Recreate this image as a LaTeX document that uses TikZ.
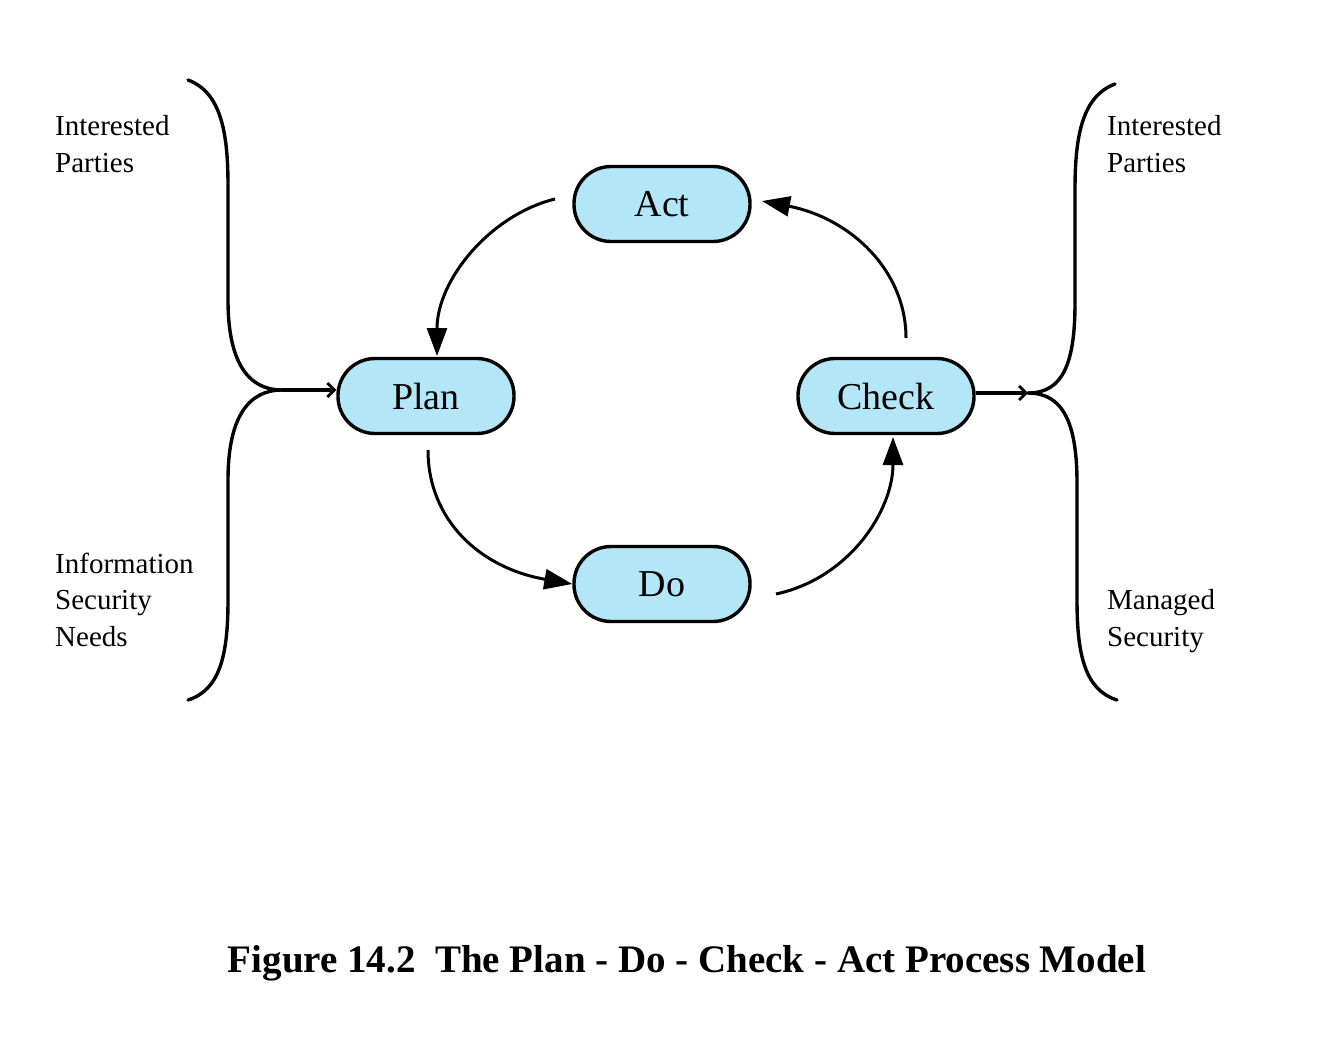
\documentclass[tikz,border=0pt]{standalone}
\usepackage{fontspec}
\setmainfont{Liberation Serif}
\usetikzlibrary{arrows.meta}
\definecolor{boxfill}{HTML}{B3E6F7}
\begin{document}
\begin{tikzpicture}[x=1pt,y=-1pt,
  stagebox/.style={draw=black,line width=3.4pt,fill=boxfill,rounded corners=37pt,
    minimum width=176pt,minimum height=75pt,inner sep=0pt,
    font=\fontsize{38}{44}\selectfont},
  flow/.style={line width=3pt,-{Triangle[length=28pt,width=20pt]}},
  bracepath/.style={line width=3.4pt,line cap=round},
  feed/.style={line width=3.4pt,-{Straight Barb[length=7pt,width=14pt,line width=2.8pt]}},
  side/.style={align=left,anchor=base west,inner sep=0pt,
    font=\fontsize{29}{36.5}\selectfont},
  caption/.style={anchor=base,inner sep=0pt,font=\fontsize{39}{44}\selectfont\bfseries}]
\useasboundingbox (0,0) rectangle (1330,1037);

% stages
\node[stagebox] (act) at (662,204) {Act};
\node[stagebox] (plan) at (426,396) {Plan};
\node[stagebox] (check) at (886,396) {Check};
\node[stagebox] (do) at (662,584) {Do};

% cycle connectors
\coordinate (actout) at (555,199);
\coordinate (planin) at (437,356);
\coordinate (planout) at (428,450);
\coordinate (doout) at (776,594);
\coordinate (checkin) at (893,437);
\coordinate (checkout) at (906,338);
\coordinate (actin) at (762,201);

\draw[flow] (actout) .. controls (490,215) and (437,280) .. (planin);
\draw[flow] (planout) .. controls (428,520) and (480,568) .. (do.west);
\draw[flow] (doout) .. controls (850,578) and (893,510) .. (checkin);
\draw[flow] (checkout) .. controls (906,270) and (850,218) .. (actin);

% left brace
\coordinate (ltip) at (282,390);
\draw[bracepath] (188,80) .. controls (220,92) and (228,130) .. (228,185)
  -- (228,300) .. controls (228,362) and (248,390) .. (ltip);
\draw[bracepath] (ltip) .. controls (248,390) and (228,418) .. (228,480)
  -- (228,600) .. controls (228,655) and (220,690) .. (188,700);
\draw[feed] (ltip) -- (ltip -| plan.west);

% right brace
\coordinate (rtip) at (1028,393);
\draw[bracepath] (1115,84) .. controls (1083,96) and (1075,134) .. (1075,189)
  -- (1075,303) .. controls (1075,365) and (1062,393) .. (rtip);
\draw[bracepath] (rtip) .. controls (1062,393) and (1077,421) .. (1077,483)
  -- (1077,600) .. controls (1077,655) and (1085,690) .. (1117,700);
\draw[feed] (rtip -| check.east) -- (rtip);

% side texts (anchored at the baseline of their last line)
\node[side] (ipl) at (55,172) {Interested\\Parties};
\node[side] (isn) at (55,646) {Information\\Security\\Needs};
\node[side] (ipr) at (1107,172) {Interested\\Parties};
\node[side] (ms) at (1107,646) {Managed\\Security};

% caption
\node[caption] (cap) at (687,972) {Figure 14.2\ \ The Plan - Do - Check - Act Process Model};
\end{tikzpicture}
\end{document}
